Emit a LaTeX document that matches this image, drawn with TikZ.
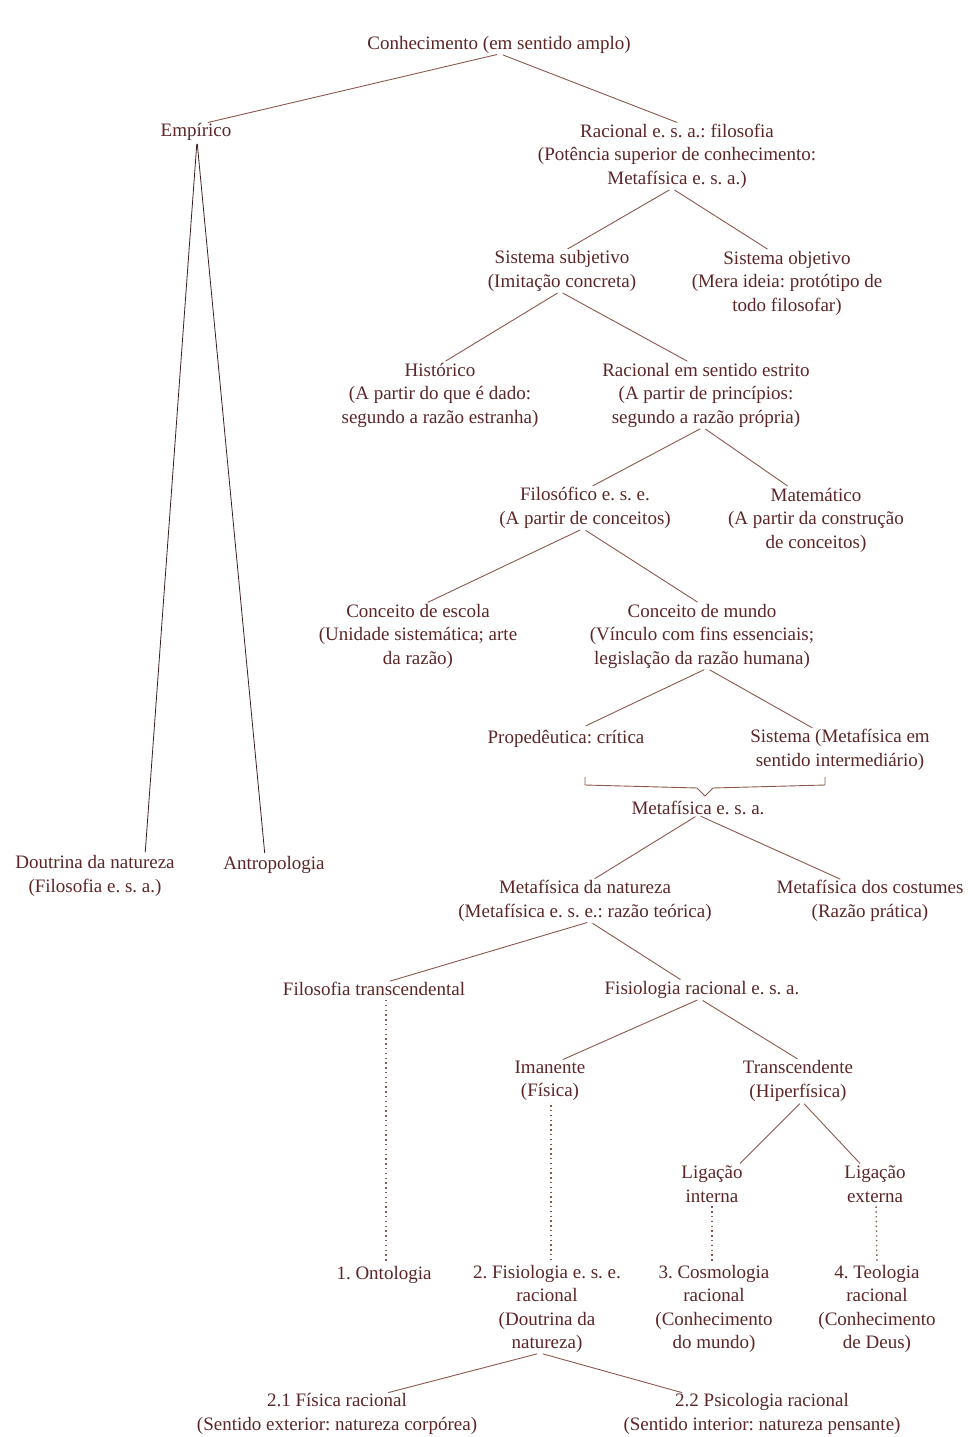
\documentclass[tikz,border=0pt]{standalone}
\usepackage{fontspec}
\setmainfont{Liberation Serif}
\usepackage{tikz}
\usepackage{xcolor}
\frenchspacing
\definecolor{textbrown}{RGB}{92,38,38}
\definecolor{linebrown}{RGB}{140,88,78}
\definecolor{linedark}{RGB}{60,30,30}
\tikzset{
    tree-node/.style = {text=textbrown, align=center, inner sep=0pt, font=\fontsize{19}{23.5}\selectfont},
    tree-edge/.style = {draw=linebrown, line width=0.9pt, shorten <=3pt, shorten >=3pt},
    dark-edge/.style = {tree-edge, draw=linedark, line width=0.8pt},
    dotted-edge/.style = {draw=linebrown, line width=1.4pt, dash pattern=on 1.4pt off 3.4pt, shorten <=4pt, shorten >=4pt},
}

\begin{document}
\begin{tikzpicture}[x=1pt, y=-1pt]
\useasboundingbox (0,0) rectangle (974,1437);

% nodes
\node[tree-node] (conh) at (499,45) {Conhecimento (em sentido amplo)};
\node[tree-node] (emp) at (196,132) {Empírico};
\node[tree-node] (rac) at (677,156) {Racional e. s. a.: filosofia\\(Potência superior de conhecimento:\\Metafísica e. s. a.)};
\node[tree-node] (subj) at (562,271) {Sistema subjetivo\\(Imitação concreta)};
\node[tree-node] (obj) at (787,283) {Sistema objetivo\\(Mera ideia: protótipo de\\todo filosofar)};
\node[tree-node] (hist) at (440,395) {Histórico\\(A partir do que é dado:\\segundo a razão estranha)};
\node[tree-node] (estr) at (706,395) {Racional em sentido estrito\\(A partir de princípios:\\segundo a razão própria)};
\node[tree-node] (filo) at (585,508) {Filosófico e. s. e.\\(A partir de conceitos)};
\node[tree-node] (mat) at (816,520) {Matemático\\(A partir da construção\\de conceitos)};
\node[tree-node] (escola) at (418,636) {Conceito de escola\\(Unidade sistemática; arte\\da razão)};
\node[tree-node] (mundo) at (702,636) {Conceito de mundo\\(Vínculo com fins essenciais;\\legislação da razão humana)};
\node[tree-node] (prop) at (566,739) {Propedêutica: crítica};
\node[tree-node] (sist) at (840,750) {Sistema (Metafísica em\\sentido intermediário)};
\node[tree-node] (meta) at (698,808) {Metafísica e. s. a.};
\node[tree-node] (dout) at (95,876) {Doutrina da natureza\\(Filosofia e. s. a.)};
\node[tree-node] (antr) at (274,865) {Antropologia};
\node[tree-node] (natur) at (585,901) {Metafísica da natureza\\(Metafísica e. s. e.: razão teórica)};
\node[tree-node] (cost) at (870,901) {Metafísica dos costumes\\(Razão prática)};
\node[tree-node] (ftrans) at (374,989) {Filosofia transcendental};
\node[tree-node] (fisio) at (702,990) {Fisiologia racional e. s. a.};
\node[tree-node] (iman) at (550,1081) {Imanente\\(Física)};
\node[tree-node] (transc) at (798,1081) {Transcendente\\(Hiperfísica)};
\node[tree-node] (lint) at (712,1184) {Ligação\\interna};
\node[tree-node] (lext) at (875,1184) {Ligação\\externa};
\node[tree-node] (onto) at (384,1275) {1. Ontologia};
\node[tree-node] (fis2) at (547,1309) {2. Fisiologia e. s. e.\\racional\\(Doutrina da\\natureza)};
\node[tree-node] (cosmo) at (714,1309) {3. Cosmologia\\racional\\(Conhecimento\\do mundo)};
\node[tree-node] (teo) at (877,1309) {4. Teologia\\racional\\(Conhecimento\\de Deus)};
\node[tree-node] (fis21) at (337,1414) {2.1 Física racional\\(Sentido exterior: natureza corpórea)};
\node[tree-node] (fis22) at (762,1414) {2.2 Psicologia racional\\(Sentido interior: natureza pensante)};

% branches
\draw[tree-edge] ([xshift=1pt]conh.south) -- ([xshift=9pt]emp.north);
\draw[tree-edge] ([xshift=1pt]conh.south) -- ([xshift=3pt]rac.north);
\draw[dark-edge] ([xshift=1pt]emp.south) -- ([xshift=50pt]dout.north);
\draw[dark-edge] ([xshift=1pt]emp.south) -- ([xshift=-9pt]antr.north);
\draw[tree-edge] ([xshift=-5pt]rac.south) -- ([xshift=3pt]subj.north);
\draw[tree-edge] ([xshift=-5pt]rac.south) -- ([xshift=-17pt]obj.north);
\draw[tree-edge] ([xshift=-2pt]subj.south) -- ([xshift=3pt]hist.north);
\draw[tree-edge] ([xshift=-2pt]subj.south) -- ([xshift=-16pt]estr.north);
\draw[tree-edge] ([xshift=-3pt]estr.south) -- ([xshift=5pt]filo.north);
\draw[tree-edge] ([xshift=-3pt]estr.south) -- ([xshift=-26pt]mat.north);
\draw[tree-edge] ([xshift=-2pt]filo.south) -- ([xshift=7pt]escola.north);
\draw[tree-edge] ([xshift=-2pt]filo.south) -- ([xshift=-2pt]mundo.north);
\draw[tree-edge] ([xshift=5pt]mundo.south) -- ([xshift=17pt,yshift=3pt]prop.north);
\draw[tree-edge] ([xshift=5pt]mundo.south) -- ([xshift=-25pt]sist.north);

% brace under propedeutica and sistema
\coordinate (brace-tip) at ([xshift=7pt,yshift=5pt]meta.north);
\draw[draw=linebrown, line width=0.9pt] (585,777) -- (585,785) -- ([xshift=-8pt,yshift=8pt]brace-tip)
    -- (brace-tip) -- ([xshift=8pt,yshift=8pt]brace-tip) -- (825,785) -- (825,777);

\draw[tree-edge] (meta.south) -- ([xshift=7pt]natur.north);
\draw[tree-edge] (meta.south) -- ([xshift=-27pt]cost.north);
\draw[tree-edge] ([xshift=5pt]natur.south) -- ([xshift=13pt]ftrans.north);
\draw[tree-edge] ([xshift=5pt]natur.south) -- ([xshift=-19pt]fisio.north);
\draw[tree-edge] ([xshift=-2pt]fisio.south) -- ([xshift=10pt]iman.north);
\draw[tree-edge] ([xshift=-2pt]fisio.south) -- ([xshift=2pt]transc.north);
\draw[tree-edge] ([xshift=4pt]transc.south) -- ([xshift=26pt]lint.north);
\draw[tree-edge] ([xshift=4pt]transc.south) -- ([xshift=-13pt]lext.north);

% dotted links to the four parts
\draw[dotted-edge] ([xshift=12pt]ftrans.south) -- ([xshift=2pt]onto.north);
\draw[dotted-edge] ([xshift=1pt]iman.south) -- ([xshift=4pt]fis2.north);
\draw[dotted-edge] (lint.south) -- ([xshift=-2pt]cosmo.north);
\draw[dotted-edge] ([xshift=1pt]lext.south) -- (teo.north);

\draw[tree-edge] ([xshift=-7pt]fis2.south) -- ([xshift=48pt]fis21.north);
\draw[tree-edge] ([xshift=-7pt]fis2.south) -- ([xshift=-77pt]fis22.north);
\end{tikzpicture}
\end{document}
